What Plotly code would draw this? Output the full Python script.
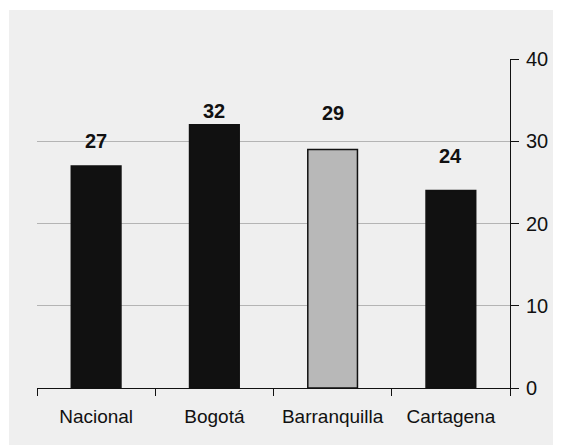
import plotly.graph_objects as go

# ── DATA ──────────────────────────────────────────────────────────────────────
cities = ["Nacional", "Bogotá", "Barranquilla", "Cartagena"]
values = [27, 32, 29, 24]
bar_colors = ["#111111", "#111111", "#b8b8b8", "#111111"]
y_ticks = [0, 10, 20, 30, 40]

# pixel gap between each bar top and its value label (labels sit unevenly in the source)
label_gap = [14, 3, 25, 24]

FONT = "Liberation Sans, Arial, sans-serif"

fig = go.Figure()

fig.add_trace(
    go.Bar(
        x=cities,
        y=values,
        width=0.42,
        marker=dict(color=bar_colors, line=dict(color="#111111", width=1.5)),
        hoverinfo="skip",
        showlegend=False,
    )
)

# ── VALUE LABELS ──────────────────────────────────────────────────────────────
for city, val, gap in zip(cities, values, label_gap):
    fig.add_annotation(
        x=city,
        y=val,
        text=f"<b>{val}</b>",
        showarrow=False,
        yanchor="bottom",
        yshift=gap - 2,
        font=dict(family=FONT, size=20, color="#111111"),
    )

# ── GREY PANEL BEHIND THE CHART ───────────────────────────────────────────────
fig.add_shape(
    type="rect",
    xref="paper", yref="paper",
    x0=-0.0592, x1=1.1057, y0=-0.1733, y1=1.149,
    fillcolor="#efefef",
    line=dict(width=0),
    layer="below",
)

# ── LAYOUT ────────────────────────────────────────────────────────────────────
# page is offset by the 8px body margin, so the figure is sized to fit
fig.update_layout(
    width=553,
    height=439,
    margin=dict(l=29, r=51, t=51, b=59),
    paper_bgcolor="white",
    plot_bgcolor="rgba(0,0,0,0)",
    font=dict(family=FONT, size=19, color="#111111"),
    xaxis=dict(
        type="category",
        showline=True,
        linecolor="#111111",
        linewidth=1,
        ticks="outside",
        tickson="boundaries",
        ticklen=7,
        tickcolor="#111111",
        showgrid=False,
        tickfont=dict(size=19),
        ticklabelstandoff=11,
        fixedrange=True,
    ),
    yaxis=dict(
        side="right",
        range=[0, 40],
        tickvals=y_ticks,
        showline=True,
        linecolor="#111111",
        linewidth=1,
        ticks="outside",
        ticklen=8,
        tickcolor="#111111",
        showgrid=True,
        gridcolor="#b4b4b4",
        gridwidth=1,
        zeroline=False,
        tickfont=dict(size=20),
        ticklabelstandoff=3,
        fixedrange=True,
    ),
)

fig.write_html("out.html")
